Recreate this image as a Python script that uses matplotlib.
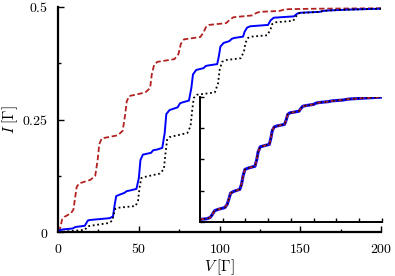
# Step-like current I(V) for three cases, with a rescaled inset.
import numpy as np
import matplotlib.pyplot as plt

plt.rcParams.update({"mathtext.fontset": 'cm', "font.family": 'serif'})

# Main panel, red dashed curve (V, I)
red_V = [0.8, 1.5, 2.5, 4, 8, 9.5, 10.5, 11.5, 13, 20, 23, 24.5, 25.5, 27, 37, 40, 41.5,
         42.5, 44, 54, 57, 58, 59.5, 61.5, 72, 74.5, 76, 78, 88, 90, 91.5, 93.5, 104,
         106.5, 108.5, 120, 123, 125, 137, 140, 143, 160, 200]
red_I = [0.0, 0.012, 0.028, 0.034, 0.042, 0.05, 0.075, 0.1, 0.108, 0.116, 0.125, 0.16,
         0.195, 0.208, 0.215, 0.225, 0.26, 0.29, 0.302, 0.31, 0.32, 0.35, 0.372, 0.378,
         0.384, 0.395, 0.418, 0.428, 0.433, 0.443, 0.455, 0.46, 0.464, 0.472, 0.477,
         0.481, 0.487, 0.489, 0.491, 0.494, 0.495, 0.496, 0.497]

# Main panel, blue solid curve
blue_V = [1, 3, 9, 10.5, 12, 16.5, 17.5, 18.5, 20, 32, 34, 35, 36, 38, 41, 42.5, 44, 48.5,
          50, 51, 52.5, 57.5, 59, 61, 64.5, 66, 67, 69, 74, 75.5, 77, 81, 82.5, 83.5,
          85.5, 90, 91.5, 93, 98.5, 99.5, 100.5, 102.5, 106, 107.5, 109, 114.5, 115.5,
          117, 119, 130, 131.5, 133.5, 146, 148, 150, 162, 164, 167, 180, 200]
blue_I = [0.004, 0.006, 0.008, 0.011, 0.012, 0.014, 0.02, 0.026, 0.027, 0.031, 0.035,
          0.06, 0.08, 0.083, 0.087, 0.091, 0.092, 0.096, 0.12, 0.16, 0.172, 0.176, 0.182,
          0.183, 0.187, 0.22, 0.262, 0.271, 0.277, 0.286, 0.288, 0.292, 0.32, 0.35, 0.36,
          0.364, 0.369, 0.37, 0.373, 0.39, 0.412, 0.42, 0.424, 0.429, 0.431, 0.434, 0.445,
          0.454, 0.457, 0.46, 0.47, 0.476, 0.479, 0.485, 0.487, 0.489, 0.491, 0.492,
          0.494, 0.496]

# Main panel, black dotted curve
black_V = [3, 10, 16.5, 17.5, 18.5, 20, 31, 33.5, 34.5, 35.5, 37, 48, 49.5, 50.5, 51.5, 53,
           63, 65.5, 66.5, 67.5, 69, 80, 82, 83, 84, 86, 97, 99, 100, 101.5, 104, 113,
           115, 116, 117.5, 120, 129.5, 131.5, 132.5, 135, 145.5, 147.5, 149, 152, 162,
           164, 167, 180, 200]
black_I = [0.001, 0.003, 0.005, 0.009, 0.013, 0.014, 0.02, 0.025, 0.04, 0.052, 0.054,
           0.058, 0.07, 0.1, 0.12, 0.122, 0.13, 0.14, 0.175, 0.205, 0.211, 0.22, 0.235,
           0.27, 0.298, 0.305, 0.31, 0.33, 0.36, 0.378, 0.382, 0.386, 0.4, 0.42, 0.431,
           0.434, 0.437, 0.45, 0.462, 0.466, 0.469, 0.48, 0.486, 0.487, 0.489, 0.491,
           0.492, 0.494, 0.496]

# Inset: the three curves rescaled, they all collapse on one another
inset_x = [0, 0.3, 0.45, 0.55, 0.65, 0.8, 1.1, 1.2, 1.27, 1.35, 1.5, 1.75, 1.83, 1.9, 1.98,
           2.15, 2.42, 2.5, 2.56, 2.65, 2.8, 3.05, 3.12, 3.18, 3.27, 3.4, 3.72, 3.8, 3.86,
           3.95, 4.35, 4.45, 4.52, 4.65, 5.0, 5.1, 5.25, 5.65, 5.8, 6.3, 6.5, 7.2, 8]
inset_y = [0.02, 0.025, 0.035, 0.06, 0.09, 0.1, 0.115, 0.14, 0.18, 0.23, 0.245, 0.26, 0.3,
           0.37, 0.42, 0.432, 0.445, 0.5, 0.56, 0.6, 0.608, 0.62, 0.67, 0.73, 0.76, 0.768,
           0.78, 0.82, 0.86, 0.872, 0.885, 0.91, 0.925, 0.93, 0.94, 0.95, 0.955, 0.962,
           0.968, 0.975, 0.982, 0.99, 0.998]

red = '#b22222'
blue = '#0000ff'

fig = plt.figure(figsize=(3.95, 2.76), dpi=100)
ax = fig.add_axes([0.147, 0.159, 0.818, 0.816])

ax.plot(blue_V, blue_I, color=blue, lw=1.4, zorder=3)
ax.plot(black_V, black_I, color='k', lw=1.3, dashes=(1, 1.5), zorder=4)
ax.plot(red_V, red_I, color=red, lw=1.3, dashes=(3, 1.5), zorder=2)

ax.set_xlim(0, 200)
ax.set_ylim(0, 0.5)
ax.set_xticks([0, 50, 100, 150, 200], labels=['$0$', '$50$', '$100$', '$150$', '$200$'])
ax.set_xticks([25, 75, 125, 175], minor=True)
ax.set_yticks([0, 0.25, 0.5], labels=['$0$', '$0.25$', '$0.5$'])
ax.set_yticks([0.125, 0.375], minor=True)
ax.tick_params(which='both', direction='in', labelsize=10, width=1)
ax.tick_params(which='major', length=4, pad=7)
ax.tick_params(which='minor', length=2)
ax.spines[['top', 'right']].set_visible(False)
ax.spines[['left', 'bottom']].set_linewidth(1.6)
ax.set_xlabel(r'$V\;[\Gamma]$', fontsize=11, labelpad=1)
ax.set_ylabel(r'$I\;[\Gamma]$', fontsize=11, labelpad=2)

# Inset
axin = fig.add_axes([0.506, 0.196, 0.461, 0.453])
axin.set_facecolor('none')
axin.plot(inset_x, inset_y, color=blue, lw=2.2, zorder=2)
axin.plot(inset_x, inset_y, color=red, lw=1.3, dashes=(2.5, 1.5), zorder=3)
axin.plot(inset_x, inset_y, color='k', lw=1.0, dashes=(1, 2), zorder=4)
axin.set_xlim(0, 8)
axin.set_ylim(0, 1)
axin.set_xticks(np.arange(0, 9, 1))
axin.set_yticks([0, 0.25, 0.5, 0.75, 1])
axin.tick_params(direction='in', length=3, width=1, labelbottom=False, labelleft=False)
axin.spines[['top', 'right']].set_visible(False)
axin.spines[['left', 'bottom']].set_linewidth(1.4)

fig.savefig('out.png', dpi=100)
